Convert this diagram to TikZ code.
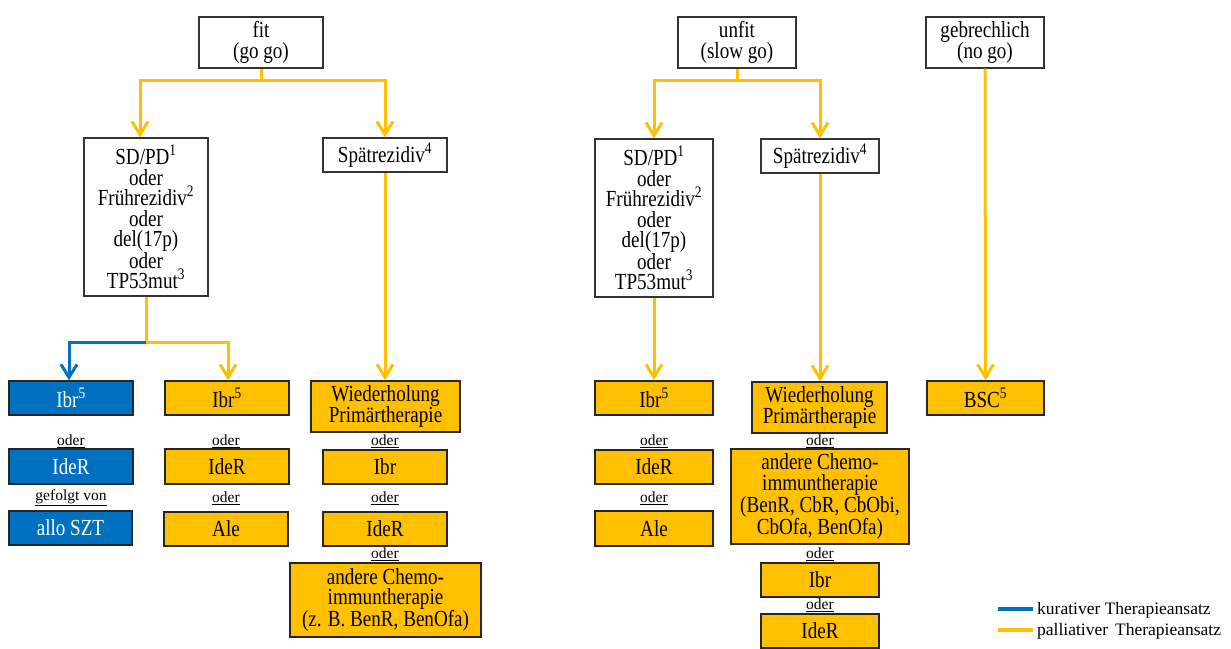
\documentclass[tikz,border=0pt]{standalone}
\usepackage{fontspec}
\setmainfont{Liberation Serif}
\newfontfamily\boxfont{Liberation Serif}[FakeStretch=0.83]
\usetikzlibrary{arrows.meta}
\definecolor{gold}{HTML}{FFC000}
\definecolor{kblue}{HTML}{0070C0}
\begin{document}
\begin{tikzpicture}[x=1pt,y=-1pt,
  wbox/.style={draw=black!80, line width=1.2pt, fill=white, inner sep=0pt, align=center, font=\boxfont\fontsize{23}{20.5}\selectfont},
  ybox/.style={wbox, fill=gold, draw=black!85, line width=1.5pt},
  bbox/.style={wbox, fill=kblue, text=white, draw=black!85, line width=1.5pt},
  orl/.style={inner sep=0pt, font=\fontsize{15.5}{16}\selectfont},
  yline/.style={draw=gold, line width=3pt},
  bline/.style={draw=kblue, line width=3pt},
  tip/.style={-{Straight Barb[length=13pt,width=16pt]}},
  legtext/.style={anchor=west, inner sep=0pt, font=\fontsize{17.5}{17.5}\selectfont}
]
\useasboundingbox (0,0) rectangle (1231,648);
\clip (0,0) rectangle (1231,648);

% top level
\node[wbox, minimum width=124, minimum height=51] (fit) at (261,42.5) {fit\\(go go)};
\node[wbox, minimum width=118, minimum height=51] (unfit) at (737,42.5) {unfit\\(slow go)};
\node[wbox, minimum width=118, minimum height=51] (gebr) at (985,42.5) {gebrechlich\\(no go)};

% second level
\node[wbox, minimum width=124, minimum height=158] (sd1) at (146,217) {SD/PD\textsuperscript{1}\\oder\\Frührezidiv\textsuperscript{2}\\oder\\del(17p)\\oder\\TP53mut\textsuperscript{3}};
\node[wbox, minimum width=124, minimum height=34] (sp1) at (385,155) {Spätrezidiv\textsuperscript{4}};
\node[wbox, minimum width=118, minimum height=158] (sd2) at (654,218) {SD/PD\textsuperscript{1}\\oder\\Frührezidiv\textsuperscript{2}\\oder\\del(17p)\\oder\\TP53mut\textsuperscript{3}};
\node[wbox, minimum width=118, minimum height=34] (sp2) at (820,156) {Spätrezidiv\textsuperscript{4}};

% fit, curative column
\node[bbox, minimum width=124, minimum height=34] (ibrB) at (71,398) {Ibr\textsuperscript{5}};
\node[orl] (o1) at (71,441) {\underline{oder}};
\node[bbox, minimum width=124, minimum height=35] (ideB) at (71,466.5) {IdeR};
\node[orl] (o2) at (71,498) {\underline{gefolgt von}};
\node[bbox, minimum width=123, minimum height=34] (allo) at (70.5,528) {allo SZT};

% fit, palliative column
\node[ybox, minimum width=124, minimum height=34] (ibrY1) at (227,398) {Ibr\textsuperscript{5}};
\node[orl] (o3) at (226,441) {\underline{oder}};
\node[ybox, minimum width=124, minimum height=35] (ideY1) at (227,466.5) {IdeR};
\node[orl] (o4) at (226,498) {\underline{oder}};
\node[ybox, minimum width=124, minimum height=34] (ale1) at (226,529) {Ale};

% fit, late relapse column
\node[ybox, minimum width=149, minimum height=51] (wied1) at (385.5,406.5) {Wiederholung\\Primärtherapie};
\node[orl] (o5) at (385,441) {\underline{oder}};
\node[ybox, minimum width=124, minimum height=34] (ibr3) at (385,467) {Ibr};
\node[orl] (o6) at (385,498) {\underline{oder}};
\node[ybox, minimum width=124, minimum height=34] (ide3) at (385,529) {IdeR};
\node[orl] (o7) at (385,554) {\underline{oder}};
\node[ybox, minimum width=191, minimum height=74] (and1) at (385.5,600) {andere Chemo-\\immuntherapie\\(z. B. BenR, BenOfa)};

% unfit, first column
\node[ybox, minimum width=118, minimum height=34] (ibr2) at (654,398) {Ibr\textsuperscript{5}};
\node[orl] (o8) at (654,441) {\underline{oder}};
\node[ybox, minimum width=118, minimum height=34] (ide2) at (654,467) {IdeR};
\node[orl] (o9) at (654,498) {\underline{oder}};
\node[ybox, minimum width=118, minimum height=35] (ale2) at (654,528.5) {Ale};

% unfit, late relapse column
\node[ybox, minimum width=135, minimum height=51] (wied2) at (819.5,407.5) {Wiederholung\\Primärtherapie};
\node[orl] (o10) at (820,441) {\underline{oder}};
\node[ybox, minimum width=178, minimum height=95] (and2) at (820,496.5) {andere Chemo-\\immuntherapie\\(BenR, CbR, CbObi,\\CbOfa, BenOfa)};
\node[orl] (o11) at (820,554) {\underline{oder}};
\node[ybox, minimum width=118, minimum height=34] (ibr4) at (820,580) {Ibr};
\node[orl] (o12) at (820,605) {\underline{oder}};
\node[ybox, minimum width=118, minimum height=34] (ide4) at (820,631) {IdeR};

% frail
\node[ybox, minimum width=117, minimum height=34] (bsc) at (985.5,398) {BSC\textsuperscript{5}};

% connectors
\coordinate (j1) at (261,80);
\draw[yline] (fit.south) -- (j1);
\draw[yline, tip] (j1) -| ([xshift=-6pt]sd1.north);
\draw[yline, tip] (j1) -| (sp1.north);

\coordinate (j2) at (737,80);
\draw[yline] (unfit.south) -- (j2);
\draw[yline, tip] (j2) -| (sd2.north);
\draw[yline, tip] (j2) -| (sp2.north);

\draw[yline, tip] (gebr.south) -- (bsc.north);

\coordinate (s1) at (146,342);
\draw[yline] (sd1.south) -- (s1);
\draw[bline, tip] (s1) -| ([xshift=-2pt]ibrB.north);
\draw[yline, tip] (s1) -| ([xshift=1pt]ibrY1.north);

\draw[yline, tip] (sp1.south) -- (wied1.north -| sp1.south);
\draw[yline, tip] (sd2.south) -- (ibr2.north);
\draw[yline, tip] (sp2.south) -- (wied2.north -| sp2.south);

% legend
\coordinate (lb1) at (998,609);
\coordinate (lb2) at (1033,609);
\coordinate (ly1) at (998,630);
\coordinate (ly2) at (1033,630);
\draw[kblue, line width=4pt] (lb1) -- (lb2);
\draw[gold, line width=4pt] (ly1) -- (ly2);
\node[legtext] (lk) at (1037,610) {kurativer Therapieansatz};
\node[legtext] (lp) at (1037,631) {palliativer\hspace{0.15em} Therapieansatz};
\end{tikzpicture}
\end{document}
